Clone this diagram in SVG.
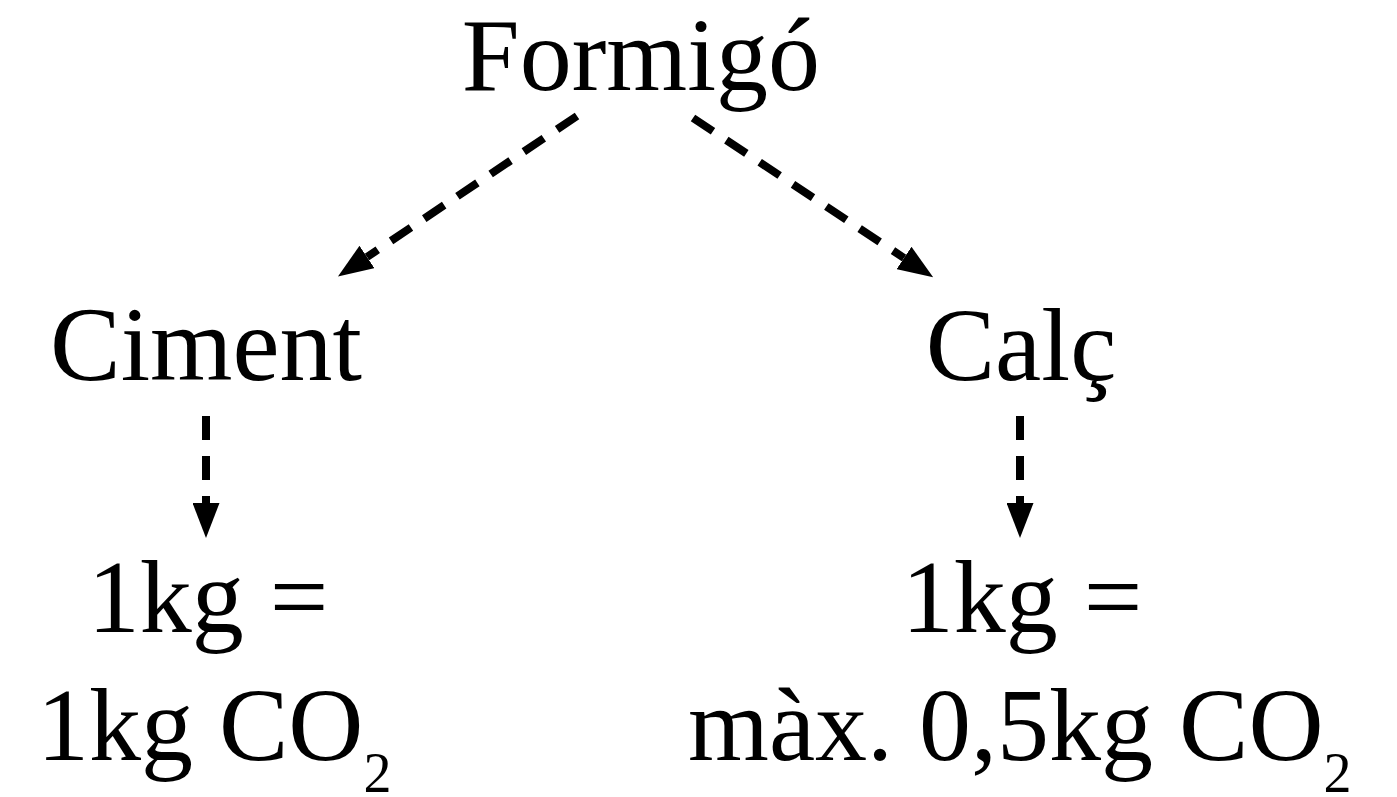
<svg xmlns="http://www.w3.org/2000/svg" width="1397" height="797" viewBox="0 0 1397 797">
<style>
text{font-family:"Liberation Serif","Times New Roman",serif;font-size:104px;fill:#000}
.c{text-anchor:middle}
.s{font-size:56px}
.a{fill:none;stroke:#000;stroke-width:8;stroke-dasharray:24 16;marker-end:url(#ah)}
</style>
<defs>
<marker id="ah" viewBox="0 0 35 27" refX="0" refY="13.5" markerUnits="strokeWidth" markerWidth="4.375" markerHeight="3.375" orient="auto">
<path d="M0,0 L35,13.5 L0,27 Z" fill="#000"/>
</marker>
</defs>
<rect width="1397" height="797" fill="#fff"/>
<g id="connectors">
<path class="a" d="M577,116 L367,257"/>
<path class="a" d="M693,118 L904,258"/>
<path class="a" d="M206,416 L206,503"/>
<path class="a" d="M1020,416 L1020,503"/>
</g>
<g id="formigo"><text class="c" x="641" y="90">Formigó</text></g>
<g id="ciment"><text class="c" x="206" y="380" style="font-size:106px">Ciment</text></g>
<g id="calc"><text class="c" x="1021" y="380">Calç</text></g>
<g id="ciment-co2">
<text class="c" x="208" y="632">1kg =</text>
<text x="37" y="760">1kg CO<tspan class="s" dx="0" dy="32">2</tspan></text>
</g>
<g id="calc-co2">
<text class="c" x="1022" y="632">1kg =</text>
<text x="688" y="760">màx. 0,5kg CO<tspan class="s" dx="0" dy="32">2</tspan></text>
</g>
</svg>
